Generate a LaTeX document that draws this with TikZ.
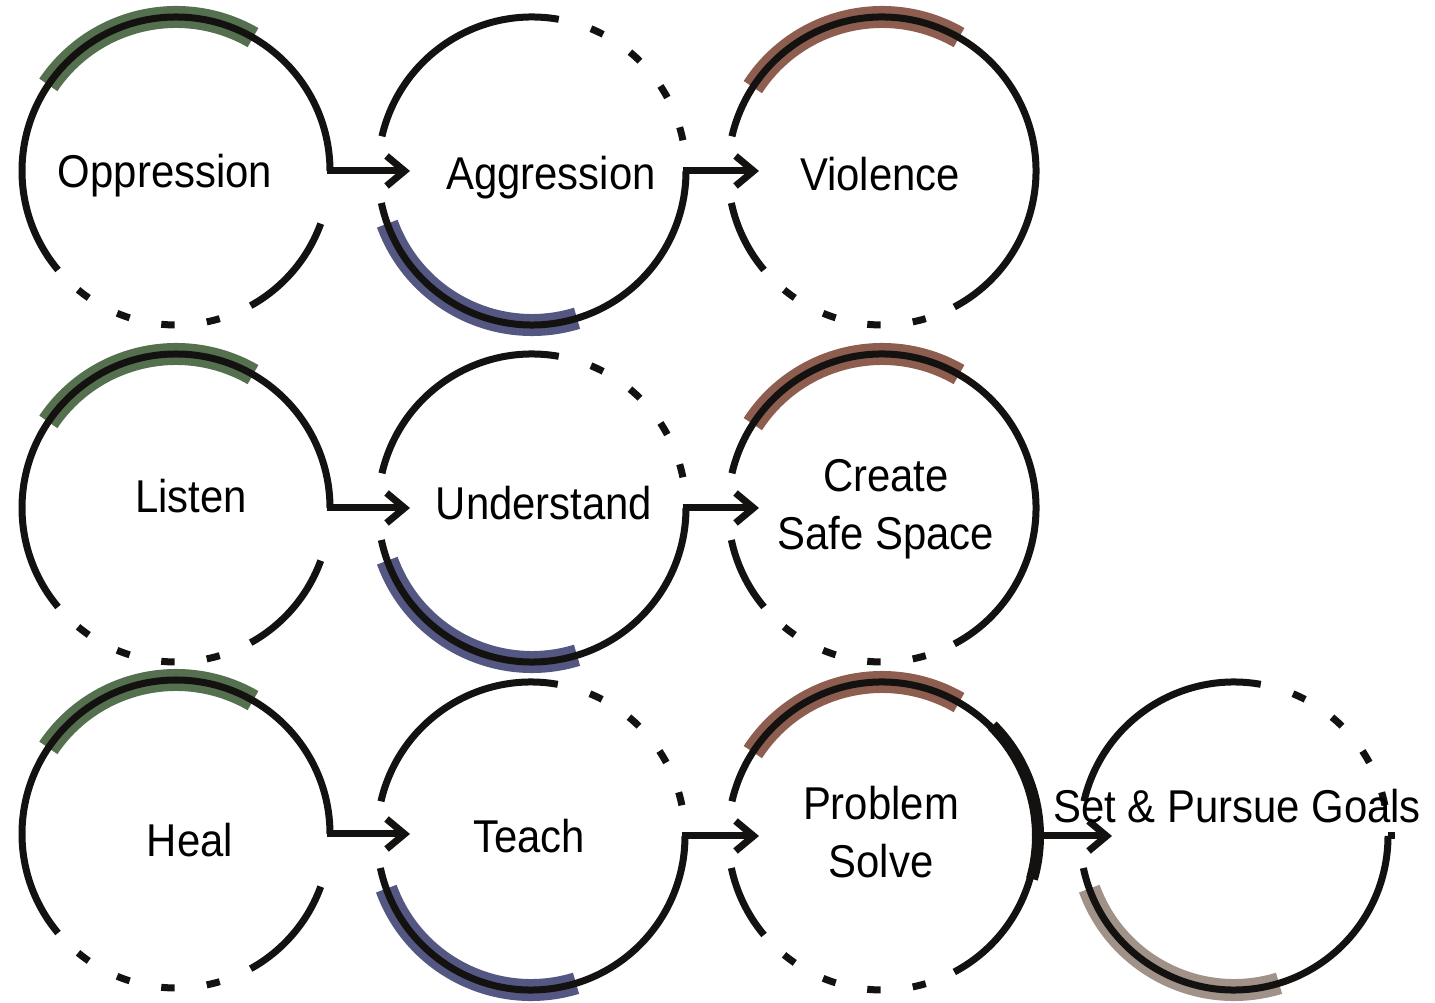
\documentclass[tikz,border=0pt]{standalone}
\usepackage{fontspec}
\setmainfont{Liberation Sans}[FakeStretch=0.91]
\usetikzlibrary{arrows.meta,calc}
\definecolor{ink}{HTML}{141210}
\definecolor{bgreen}{HTML}{55704F}
\definecolor{bblue}{HTML}{545782}
\definecolor{bbrown}{HTML}{8D5E4F}
\definecolor{bgrey}{HTML}{A09189}
\begin{document}
\begin{tikzpicture}[x=1pt,y=1pt,
  hub/.style={circle,minimum size=308pt,inner sep=0pt,outer sep=0pt},
  ring/.style={draw=ink,line width=7pt},
  band/.style={draw=#1,line width=22pt},
  arr/.style={draw=ink,line width=7pt,-{Straight Barb[length=18pt,width=30pt]}},
  lbl/.style={anchor=base,inner sep=0pt,font=\fontsize{46pt}{58pt}\selectfont},
  pics/ringA/.style={code={
    \draw[band=#1] (60:154) arc[start angle=60,end angle=146,radius=154];
    \draw[ring] (0:154) arc[start angle=0,end angle=220,radius=154];
    \draw[ring] (-61:154) arc[start angle=-61,end angle=-20,radius=154];
    \foreach \s in {230.5,247.5,264.5,281.5}
      \draw[ring] (\s:154) arc[start angle=\s,delta angle=5,radius=154];
  }},
  pics/ringB/.style={code={
    \draw[band=#1] (200:154) arc[start angle=200,end angle=287,radius=154];
    \draw[ring] (80:154) arc[start angle=80,end angle=167,radius=154];
    \draw[ring] (192:154) arc[start angle=192,end angle=360,radius=154];
    \foreach \s in {62.5,45.5,28.5,11.5}
      \draw[ring] (\s:154) arc[start angle=\s,delta angle=5,radius=154];
  }},
  pics/ringC/.style={code={
    \draw[band=#1] (60:154) arc[start angle=60,end angle=147,radius=154];
    \draw[ring] (-62:154) arc[start angle=-62,end angle=167,radius=154];
    \draw[ring] (192:154) arc[start angle=192,end angle=220,radius=154];
    \foreach \s in {230.5,247.5,264.5,281.5}
      \draw[ring] (\s:154) arc[start angle=\s,delta angle=5,radius=154];
  }}]
\useasboundingbox (0,0) rectangle (1435,1003);

% hubs (invisible circle nodes)
\node[hub] (opp) at (176,832) {};
\node[hub] (agg) at (532,832) {};
\node[hub] (vio) at (882,832) {};
\node[hub] (lis) at (176,495) {};
\node[hub] (und) at (532,495) {};
\node[hub] (csp) at (882,495) {};
\node[hub] (hea) at (176,169) {};
\node[hub] (tea) at (531,167) {};
\node[hub] (pro) at (882,167) {};
\node[hub] (goa) at (1234,167) {};

% rings
\pic at (opp) {ringA=bgreen};
\pic at (agg) {ringB=bblue};
\pic at (vio) {ringC=bbrown};
\pic at (lis) {ringA=bgreen};
\pic at (und) {ringB=bblue};
\pic at (csp) {ringC=bbrown};
\pic at (hea) {ringA=bgreen};
\pic at (tea) {ringB=bblue};
\pic at (pro) {ringC=bbrown};
\pic at (goa) {ringB=bgrey};
\draw[ink,line width=12pt] ($(pro)+(-16:156)$) arc[start angle=-16,end angle=45,radius=156];
\draw[ring] (goa.east) -- ++(7,0);

% arrows
\draw[arr] ([xshift=-3.5pt]opp.east) -- ([xshift=32pt]agg.west);
\draw[arr] ([xshift=-3.5pt]agg.east) -- ([xshift=31pt]vio.west);
\draw[arr] ([xshift=-3.5pt]lis.east) -- ([xshift=32pt]und.west);
\draw[arr] ([xshift=-3.5pt]und.east) -- ([xshift=31pt]csp.west);
\draw[arr] ([xshift=-3.5pt]hea.east) -- ([xshift=33pt,yshift=2pt]tea.west);
\draw[arr] ([xshift=-3.5pt]tea.east) -- ([xshift=31pt]pro.west);
\draw[arr] ([xshift=-3.5pt]pro.east) -- ([xshift=32pt]goa.west);

% labels
\node[lbl] (t1) at (165,815) {Oppression};
\node[lbl] (t2) at (551,813) {Aggression};
\node[lbl] (t3) at (880,812) {Violence};
\node[lbl] (t4) at (191,490) {Listen};
\node[lbl] (t5) at (544,483) {Understand};
\node[lbl] (t6) at (886,453) {\begin{tabular}[b]{@{}c@{}}Create\\Safe Space\end{tabular}};
\node[lbl] (t7) at (190,146) {Heal};
\node[lbl] (t8) at (529,150) {Teach};
\node[lbl] (t9) at (881,125) {\begin{tabular}[b]{@{}c@{}}Problem\\Solve\end{tabular}};
\node[lbl] (t10) at (1237,180) {Set \& Pursue Goals};
\end{tikzpicture}
\end{document}
